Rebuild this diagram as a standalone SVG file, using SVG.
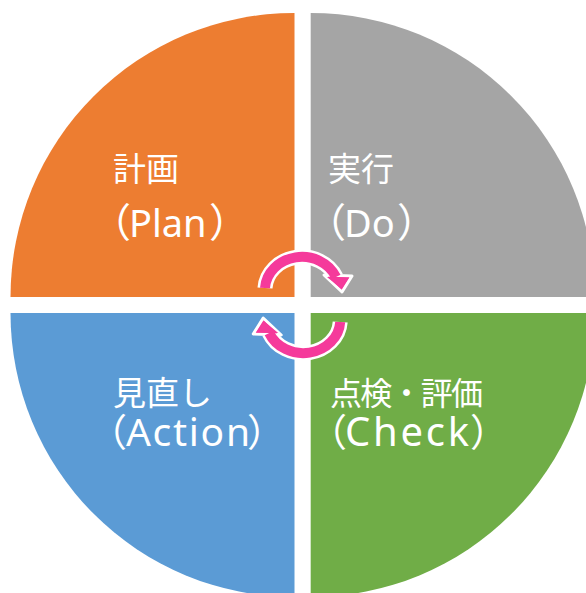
<svg xmlns="http://www.w3.org/2000/svg" width="586" height="593" viewBox="0 0 586 593">
<style>
.lbl{fill:#fff;font-family:"Noto Sans","Noto Sans CJK JP",sans-serif}
.cjk{font-size:33px}
.lat{font-size:38px}
.sh-w{fill:none;stroke:#fff;stroke-width:15}
.sh-p{fill:none;stroke:#F53A9B;stroke-width:10}
.hd{fill:#F53A9B;stroke:#fff;stroke-width:3;stroke-linejoin:round}
</style>
<rect width="586" height="593" fill="#fff"/>
<g id="plan">
<path d="M294.5 297 L10.5 297 A284 284 0 0 1 294.5 13 Z" fill="#ED7D31"/>
<text class="lbl cjk" x="113" y="181">計画</text>
<text class="lbl" y="237"><tspan x="91" style="font-size:40px">（</tspan><tspan class="lat" x="129">Plan</tspan><tspan x="209" style="font-size:40px">）</tspan></text>
</g>
<g id="do">
<path d="M310.7 297 L310.7 13 A284 284 0 0 1 594.7 297 Z" fill="#A5A5A5"/>
<text class="lbl cjk" x="328" y="181">実行</text>
<text class="lbl" y="237"><tspan x="306" style="font-size:40px">（</tspan><tspan class="lat" x="344">Do</tspan><tspan x="397" style="font-size:40px">）</tspan></text>
</g>
<g id="action">
<path d="M294.5 313 L294.5 597 A284 284 0 0 1 10.5 313 Z" fill="#5B9BD5"/>
<text class="lbl cjk" x="113" y="405">見直し</text>
<text class="lbl" y="446"><tspan x="89" style="font-size:38px">（</tspan><tspan class="lat" x="126" style="font-size:39px" textLength="124" lengthAdjust="spacing">Action</tspan><tspan x="247" style="font-size:38px">）</tspan></text>
</g>
<g id="check">
<path d="M310.7 313 L594.7 313 A284 284 0 0 1 310.7 597 Z" fill="#70AD47"/>
<text class="lbl" x="330" y="405" style="font-size:32px" textLength="153" lengthAdjust="spacing">点検・評価</text>
<text class="lbl" y="446"><tspan x="309" style="font-size:38px">（</tspan><tspan class="lat" x="345" style="font-size:40px" textLength="124" lengthAdjust="spacing">Check</tspan><tspan x="470" style="font-size:38px">）</tspan></text>
</g>
<g id="connectors">
<g id="arrow-top">
<path class="sh-w" d="M265 288 A37 33 0 0 1 336 277"/>
<polygon class="hd" points="324,275 352,276 342,292"/>
<path class="sh-p" d="M265 288 A37 33 0 0 1 336 277"/>
<polygon fill="#F53A9B" points="327,277 349,277.5 341.5,289"/>
</g>
<g id="arrow-bottom" transform="rotate(180 302.6 305)">
<path class="sh-w" d="M265 288 A37 33 0 0 1 336 277"/>
<polygon class="hd" points="324,275 352,276 342,292"/>
<path class="sh-p" d="M265 288 A37 33 0 0 1 336 277"/>
<polygon fill="#F53A9B" points="327,277 349,277.5 341.5,289"/>
</g>
</g>
</svg>
